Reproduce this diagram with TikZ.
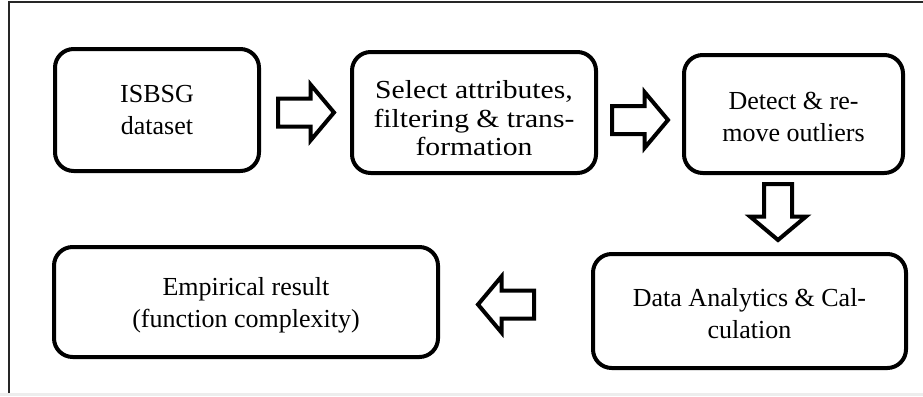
\documentclass[tikz,border=0pt]{standalone}
\usepackage{fontspec}
\setmainfont{Liberation Serif}
\newfontfamily\widefont[FakeStretch = 1.14]{Liberation Serif}
\usetikzlibrary{shapes.arrows}
\usetikzlibrary{positioning}
\tikzset{stage/.style = {draw, line width = 3pt, rounded corners = 14pt,
                         align = center, inner sep = 0,
                         font = \fontsize{19.5}{24}\selectfont}}
\tikzset{flow/.style = {draw, line width = 3pt, shape = single arrow,
                        inner xsep = 0, inner ysep = 9pt,
                        single arrow head extend = 10.5pt,
                        single arrow tip angle = 100,
                        minimum height = 42pt, minimum width = 39pt,
                        anchor = tail}}

\begin{document}
\begin{tikzpicture}[x = 0.75pt, y = -0.75pt]
      \useasboundingbox (0, 0) rectangle (923, 396);
      \fill [black!7] (0, 393) rectangle (923, 396);
      \draw [line width = 1.6pt, black!85] (9, 393) -- (9, 2) -- (923, 2);

      \node [stage, minimum width = 153pt, minimum height = 91.5pt] (isbsg) at (157, 110) {ISBSG\\dataset};
      \node [stage, minimum width = 183pt, minimum height = 90.75pt,
             font = \widefont\fontsize{19.5}{21.5}\selectfont] (select) at (474, 112.5)
            {\rule{0pt}{22pt}Select attributes,\\filtering \& trans-\\formation};
      \node [stage, minimum width = 164.25pt, minimum height = 88.5pt] (detect) at (793.5, 114) {\rule{0pt}{17pt}Detect \& re-\\move outliers};
      \node [stage, minimum width = 234.75pt, minimum height = 85.5pt] (analytics) at (749.5, 311) {\rule{0pt}{17pt}Data Analytics \& Cal-\\culation};
      \node [stage, minimum width = 288pt, minimum height = 82.5pt] (result) at (246, 302) {\rule{0pt}{19pt}Empirical result\\(function complexity)};

      \node [flow] (toselect) at (276, 112.5) {};
      \node [flow] (todetect) at (610, 120) {};
      \node [flow, rotate = -90] (toanalytics) at (778, 182) {};
      \node [flow, rotate = 180] (toresult) at (536, 304.5) {};
    \end{tikzpicture}
\end{document}
